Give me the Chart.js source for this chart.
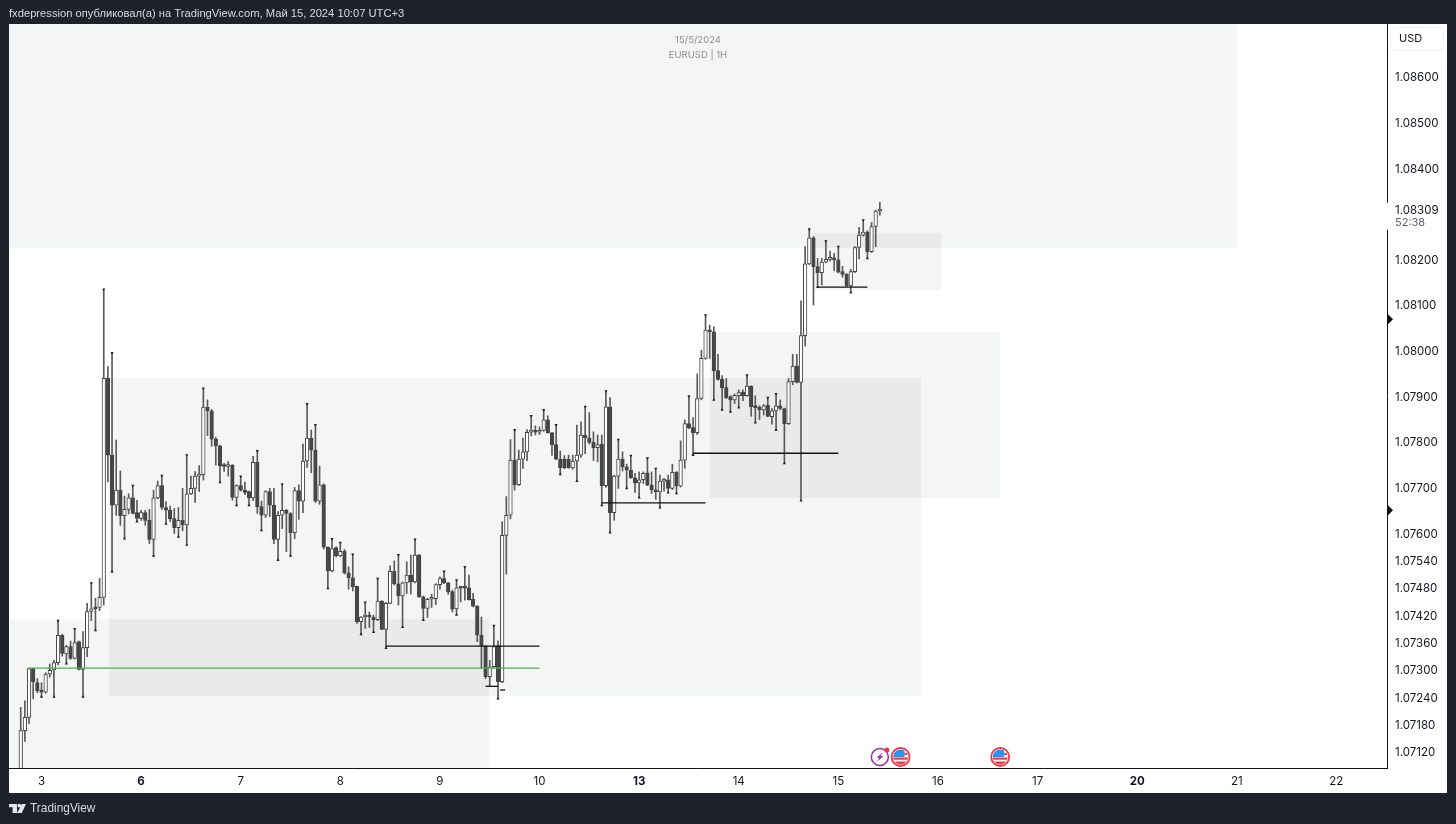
<!DOCTYPE html>
<html>
<head>
<meta charset="utf-8">
<title>EURUSD 1H</title>
<script src="https://cdn.jsdelivr.net/npm/chart.js@4"></script>
<style>
  html,body{margin:0;padding:0;background:#1e222d;overflow:hidden}
  canvas{display:block}
</style>
</head>
<body>
<canvas id="chart" width="1456" height="824"></canvas>
<script>
// CANDLES, one per hour, first bar sits 5 hours before the "3" day tick
const firstBar = -5;
const opens = [
  1.07050,1.07167,1.07196,1.07303,1.07272,1.07254,1.07251,1.07291,1.07300,1.07316,
  1.07376,1.07335,1.07351,1.07325,1.07362,1.07301,1.07349,1.07428,1.07437,1.07437,
  1.07459,1.07939,1.07771,1.07661,1.07694,1.07638,1.07652,1.07677,1.07645,1.07632,
  1.07645,1.07628,1.07586,1.07677,1.07704,1.07656,1.07650,1.07632,1.07612,1.07628,
  1.07618,1.07686,1.07698,1.07725,1.07728,1.07876,1.07868,1.07806,1.07791,1.07749,
  1.07746,1.07749,1.07678,1.07704,1.07694,1.07691,1.07677,1.07755,1.07658,1.07639,
  1.07691,1.07661,1.07586,1.07639,1.07650,1.07643,1.07601,1.07693,1.07670,1.07758,
  1.07808,1.07782,1.07670,1.07706,1.07569,1.07517,1.07568,1.07550,1.07560,1.07513,
  1.07502,1.07483,1.07406,1.07416,1.07417,1.07416,1.07410,1.07451,1.07389,1.07446,
  1.07516,1.07489,1.07462,1.07491,1.07508,1.07493,1.07552,1.07460,1.07435,1.07455,
  1.07456,1.07487,1.07500,1.07491,1.07472,1.07434,1.07480,1.07480,1.07480,1.07455,
  1.07440,1.07376,1.07352,1.07285,1.07307,1.07353,1.07274,1.07595,1.07639,1.07760,
  1.07706,1.07762,1.07778,1.07821,1.07826,1.07821,1.07825,1.07848,1.07820,1.07794,
  1.07762,1.07762,1.07762,1.07743,1.07758,1.07771,1.07815,1.07809,1.07799,1.07787,
  1.07795,1.07704,1.07877,1.07645,1.07725,1.07762,1.07745,1.07738,1.07721,1.07710,
  1.07717,1.07732,1.07705,1.07695,1.07690,1.07714,1.07717,1.07698,1.07733,1.07703,
  1.07760,1.07840,1.07831,1.07820,1.07895,1.07983,1.08045,1.08041,1.07956,1.07937,
  1.07919,1.07899,1.07892,1.07901,1.07909,1.07901,1.07922,1.07877,1.07876,1.07870,
  1.07880,1.07855,1.07868,1.07879,1.07873,1.07840,1.07932,1.07966,1.07930,1.08033,
  1.08190,1.08247,1.08184,1.08171,1.08194,1.08200,1.08202,1.08199,1.08173,1.08168,
  1.08142,1.08173,1.08226,1.08253,1.08260,1.08217,1.08272,1.08306
];
const closes = [
  1.07167,1.07196,1.07303,1.07274,1.07254,1.07251,1.07291,1.07299,1.07316,1.07376,
  1.07336,1.07351,1.07325,1.07360,1.07301,1.07349,1.07428,1.07434,1.07434,1.07459,
  1.07939,1.07771,1.07661,1.07694,1.07638,1.07652,1.07677,1.07643,1.07632,1.07645,
  1.07628,1.07586,1.07677,1.07704,1.07656,1.07650,1.07631,1.07612,1.07628,1.07618,
  1.07686,1.07698,1.07725,1.07728,1.07876,1.07868,1.07806,1.07791,1.07747,1.07746,
  1.07749,1.07678,1.07704,1.07694,1.07689,1.07677,1.07755,1.07658,1.07639,1.07691,
  1.07661,1.07586,1.07639,1.07650,1.07643,1.07601,1.07693,1.07670,1.07758,1.07808,
  1.07782,1.07670,1.07706,1.07569,1.07517,1.07566,1.07550,1.07560,1.07513,1.07502,
  1.07482,1.07406,1.07416,1.07417,1.07416,1.07410,1.07451,1.07389,1.07446,1.07516,
  1.07489,1.07462,1.07491,1.07508,1.07493,1.07552,1.07460,1.07435,1.07455,1.07456,
  1.07487,1.07500,1.07491,1.07471,1.07433,1.07480,1.07479,1.07479,1.07454,1.07440,
  1.07376,1.07352,1.07285,1.07307,1.07351,1.07274,1.07595,1.07639,1.07760,1.07706,
  1.07762,1.07778,1.07821,1.07826,1.07821,1.07825,1.07848,1.07820,1.07794,1.07762,
  1.07743,1.07743,1.07743,1.07758,1.07771,1.07815,1.07809,1.07799,1.07787,1.07794,
  1.07704,1.07877,1.07645,1.07725,1.07762,1.07745,1.07738,1.07721,1.07710,1.07717,
  1.07731,1.07705,1.07695,1.07690,1.07714,1.07717,1.07698,1.07733,1.07703,1.07760,
  1.07840,1.07831,1.07820,1.07895,1.07983,1.08045,1.08041,1.07956,1.07937,1.07919,
  1.07897,1.07892,1.07902,1.07908,1.07901,1.07922,1.07877,1.07875,1.07870,1.07879,
  1.07856,1.07868,1.07879,1.07873,1.07840,1.07932,1.07966,1.07930,1.08033,1.08190,
  1.08247,1.08184,1.08171,1.08194,1.08200,1.08202,1.08199,1.08172,1.08167,1.08142,
  1.08173,1.08226,1.08253,1.08260,1.08217,1.08272,1.08306,1.08309
];
const highs = [
  1.07218,1.07232,1.07304,1.07304,1.07281,1.07272,1.07294,1.07313,1.07321,1.07408,
  1.07378,1.07354,1.07363,1.07390,1.07363,1.07384,1.07446,1.07490,1.07457,1.07501,
  1.08134,1.07965,1.07995,1.07804,1.07736,1.07681,1.07686,1.07704,1.07672,1.07650,
  1.07650,1.07652,1.07694,1.07714,1.07726,1.07669,1.07659,1.07654,1.07656,1.07698,
  1.07771,1.07725,1.07735,1.07748,1.07917,1.07892,1.07871,1.07810,1.07793,1.07753,
  1.07757,1.07750,1.07706,1.07724,1.07712,1.07692,1.07768,1.07780,1.07670,1.07693,
  1.07698,1.07698,1.07647,1.07707,1.07652,1.07645,1.07700,1.07706,1.07795,1.07883,
  1.07826,1.07837,1.07747,1.07708,1.07570,1.07587,1.07570,1.07579,1.07564,1.07526,
  1.07553,1.07484,1.07417,1.07448,1.07427,1.07420,1.07500,1.07452,1.07448,1.07528,
  1.07539,1.07552,1.07493,1.07537,1.07552,1.07586,1.07553,1.07462,1.07457,1.07466,
  1.07489,1.07504,1.07516,1.07492,1.07475,1.07497,1.07482,1.07526,1.07508,1.07468,
  1.07441,1.07416,1.07353,1.07321,1.07397,1.07364,1.07625,1.07680,1.07805,1.07826,
  1.07782,1.07808,1.07827,1.07857,1.07835,1.07833,1.07870,1.07857,1.07821,1.07837,
  1.07780,1.07770,1.07771,1.07771,1.07837,1.07844,1.07877,1.07864,1.07822,1.07815,
  1.07815,1.07911,1.07897,1.07727,1.07805,1.07778,1.07751,1.07770,1.07731,1.07734,
  1.07734,1.07764,1.07734,1.07741,1.07727,1.07720,1.07727,1.07751,1.07735,1.07802,
  1.07848,1.07900,1.07853,1.07949,1.08001,1.08078,1.08056,1.08052,1.07992,1.07945,
  1.07939,1.07901,1.07905,1.07914,1.07914,1.07946,1.07923,1.07901,1.07879,1.07882,
  1.07897,1.07873,1.07905,1.07892,1.07874,1.07939,1.07992,1.07992,1.08109,1.08228,
  1.08266,1.08250,1.08202,1.08202,1.08240,1.08218,1.08213,1.08228,1.08185,1.08169,
  1.08178,1.08228,1.08270,1.08286,1.08263,1.08281,1.08308,1.08325
];
const lows = [
  1.07020,1.07143,1.07182,1.07237,1.07250,1.07241,1.07249,1.07284,1.07241,1.07311,
  1.07330,1.07314,1.07323,1.07324,1.07300,1.07241,1.07329,1.07408,1.07387,1.07430,
  1.07442,1.07712,1.07515,1.07639,1.07617,1.07588,1.07642,1.07642,1.07625,1.07628,
  1.07617,1.07577,1.07550,1.07675,1.07652,1.07620,1.07625,1.07599,1.07592,1.07605,
  1.07574,1.07684,1.07667,1.07691,1.07716,1.07814,1.07790,1.07749,1.07711,1.07735,
  1.07725,1.07672,1.07661,1.07692,1.07684,1.07661,1.07671,1.07643,1.07606,1.07634,
  1.07636,1.07577,1.07541,1.07610,1.07559,1.07550,1.07588,1.07630,1.07645,1.07744,
  1.07732,1.07667,1.07663,1.07565,1.07479,1.07515,1.07548,1.07548,1.07510,1.07477,
  1.07473,1.07402,1.07378,1.07391,1.07393,1.07383,1.07408,1.07388,1.07348,1.07445,
  1.07486,1.07442,1.07394,1.07468,1.07466,1.07491,1.07459,1.07409,1.07415,1.07437,
  1.07443,1.07477,1.07489,1.07466,1.07427,1.07421,1.07449,1.07453,1.07453,1.07438,
  1.07362,1.07303,1.07281,1.07264,1.07305,1.07237,1.07272,1.07510,1.07631,1.07694,
  1.07704,1.07742,1.07759,1.07813,1.07815,1.07816,1.07823,1.07819,1.07770,1.07761,
  1.07729,1.07741,1.07742,1.07740,1.07714,1.07766,1.07774,1.07795,1.07759,1.07756,
  1.07661,1.07700,1.07601,1.07628,1.07698,1.07736,1.07698,1.07720,1.07689,1.07678,
  1.07709,1.07704,1.07687,1.07674,1.07656,1.07692,1.07689,1.07695,1.07687,1.07701,
  1.07742,1.07829,1.07771,1.07816,1.07892,1.07981,1.07983,1.07892,1.07935,1.07870,
  1.07895,1.07866,1.07884,1.07875,1.07890,1.07900,1.07856,1.07842,1.07849,1.07859,
  1.07855,1.07839,1.07826,1.07870,1.07753,1.07838,1.07925,1.07929,1.07671,1.08010,
  1.08188,1.08100,1.08139,1.08144,1.08192,1.08196,1.08175,1.08170,1.08161,1.08140,
  1.08127,1.08171,1.08201,1.08251,1.08202,1.08215,1.08228,1.08297
];

// FRACTAL MARKS (bar numbers)
const fractalUp = [4,8,12,15,17,22,29,35,39,48,52,58,64,66,70,72,75,78,81,86,90,97,100,102,109,114,118,121,124,131,136,139,142,146,148,156,160,170,175,177,185,189,192,198];
const fractalDown = [0,3,6,10,13,17,20,23,27,30,33,35,43,47,50,53,57,60,69,77,80,83,87,92,100,110,125,129,135,137,141,144,149,151,153,157,162,164,166,168,172,177,179,183,187,195,199];

// AXES
const dayBars = [0,24,48,72,96,120,144,168,192,216,240,264,288,312];
const dayLabels = ['3','6','7','8','9','10','13','14','15','16','17','20','21','22'];
const boldDays = ['6','13','20'];
const priceTicks = [1.086,1.085,1.084,1.08309,1.082,1.081,1.08,1.079,1.078,1.077,1.076,1.0754,1.0748,1.0742,1.0736,1.073,1.0724,1.0718,1.0712];
const axisMarks = [1.08069,1.0765];

// ZONES
const zoneStart = [-7.8,-7.6,16.3,161,186];
const zoneEnd = [288,107.8,211.9,231,216.7];
const zoneTop = [1.08716,1.07411,1.0794,1.08041,1.08258];
const zoneBottom = [1.08225,1.07085,1.07243,1.07677,1.08133];

// LEVELS
const levelPrice = [1.07352,1.07666,1.07775,1.08139,1.07264,1.07256];
const levelStart = [83,135,157,187,107,110.5];
const levelEnd = [120,160,192,199,110,111.7];
const greenPrice = 1.07304;
const greenStart = -3;
const greenEnd = 120;

// EVENT ICONS (bar numbers)
const boltBars = [202];
const flagBars = [207,231];

const bars = opens.map((o,i)=>firstBar+i);
const downFill = '#474747';
const upFill = '#ffffff';
const fontName = 'Inter, "Liberation Sans", sans-serif';
const headFont = '"Liberation Sans", sans-serif';

const datasets = [];
datasets.push({
  type:'bar', label:'wicks', order:6, grouped:false, barThickness:1,
  data:bars.map((x,i)=>({x,y:[lows[i],highs[i]]})),
  backgroundColor:'#5a5a5a', borderWidth:0
});
datasets.push({
  type:'bar', label:'bodies', order:5, grouped:false, barThickness:3.6, minBarLength:2,
  data:bars.map((x,i)=>({x,y:[opens[i],closes[i]]})),
  backgroundColor:bars.map((x,i)=>closes[i]>=opens[i]?upFill:downFill),
  borderColor:'#444444', borderWidth:1, borderSkipped:false
});
datasets.push({
  type:'line', label:'fractal up', order:4, showLine:false,
  data:fractalUp.map(b=>({x:b,y:highs[b-firstBar]})),
  pointStyle:'triangle', pointRotation:180, pointRadius:1.8,
  pointBackgroundColor:'#222', pointBorderWidth:0
});
datasets.push({
  type:'line', label:'fractal down', order:4, showLine:false,
  data:fractalDown.map(b=>({x:b,y:lows[b-firstBar]})),
  pointStyle:'triangle', pointRadius:1.8,
  pointBackgroundColor:'#222', pointBorderWidth:0
});
levelPrice.forEach((p,i)=>{
  datasets.push({
    type:'line', label:'level '+i, order:3,
    data:[{x:levelStart[i],y:p},{x:levelEnd[i],y:p}],
    borderColor:'#111', borderWidth:1.3, pointRadius:0
  });
});
datasets.push({
  type:'line', label:'green level', order:2,
  data:[{x:greenStart,y:greenPrice},{x:greenEnd,y:greenPrice}],
  borderColor:'#4caf50', borderWidth:1.2, pointRadius:0
});

// white panes behind plot and axes, zones behind the candles
const panes = {
  id:'panes',
  beforeDatasetsDraw(chart){
    const c = chart.ctx, a = chart.chartArea, xs = chart.scales.x, ys = chart.scales.y;
    c.save();
    c.beginPath(); c.rect(a.left,a.top,a.right-a.left,a.bottom-a.top); c.clip();
    c.fillStyle = 'rgba(40,60,60,0.05)';
    zoneStart.forEach((s,i)=>{
      const x1 = xs.getPixelForValue(s), x2 = xs.getPixelForValue(zoneEnd[i]);
      const y1 = ys.getPixelForValue(zoneTop[i]), y2 = ys.getPixelForValue(zoneBottom[i]);
      c.fillRect(x1,y1,x2-x1,y2-y1);
    });
    c.restore();
  },
  beforeDraw(chart){
    const c = chart.ctx, a = chart.chartArea, ys = chart.scales.y, xs = chart.scales.x;
    c.save();
    c.fillStyle = '#1e222d';
    c.fillRect(0,0,chart.width,chart.height);
    c.fillStyle = '#ffffff';
    c.fillRect(a.left,a.top,ys.right-a.left,xs.bottom-a.top);
    c.restore();
  }
};

function drawBolt(c,x,y){
  c.strokeStyle = '#9c27b0'; c.lineWidth = 1.5;
  c.beginPath(); c.arc(x,y,8.5,0,Math.PI*2); c.stroke();
  c.fillStyle = '#9c27b0';
  c.beginPath();
  c.moveTo(x+3.5,y-5); c.lineTo(x-3.5,y+0.8); c.lineTo(x-0.5,y+0.8);
  c.lineTo(x-3,y+5); c.lineTo(x+3.5,y-1); c.lineTo(x+0.5,y-1); c.closePath(); c.fill();
  c.fillStyle = '#f23645';
  c.beginPath(); c.arc(x+7,y-7,2.5,0,Math.PI*2); c.fill();
}
function drawFlag(c,x,y){
  c.save();
  c.beginPath(); c.arc(x,y,7.5,0,Math.PI*2); c.clip();
  c.fillStyle = '#ffffff'; c.fillRect(x-8,y-8,16,16);
  c.fillStyle = '#f23645';
  c.fillRect(x-8,y+0.5,16,2.2); c.fillRect(x-8,y+4.5,16,3.5);
  c.fillStyle = '#2196f3'; c.fillRect(x-8,y-8,12,8);
  c.fillStyle = '#f23645'; c.fillRect(x+4,y-4,4,2);
  c.restore();
  c.strokeStyle = '#f23645'; c.lineWidth = 1.8;
  c.beginPath(); c.arc(x,y,9,0,Math.PI*2); c.stroke();
}
function drawLogo(c){
  c.fillStyle = '#e6e8ee';
  c.fillRect(9,804,8,3.2);
  c.fillRect(12.6,804,4.4,9);
  c.beginPath(); c.arc(19.4,805.7,1.9,0,Math.PI*2); c.fill();
  c.beginPath();
  c.moveTo(22,804); c.lineTo(26,804); c.lineTo(21.7,813); c.lineTo(17,813); c.closePath(); c.fill();
}

const overlay = {
  id:'overlay',
  afterDraw(chart){
    const c = chart.ctx, a = chart.chartArea, ys = chart.scales.y, xs = chart.scales.x;
    c.save();
    // header and footer
    c.textBaseline = 'middle'; c.textAlign = 'left';
    c.font = '11.2px '+headFont; c.fillStyle = '#d8dae0';
    c.fillText('fxdepression опубликовал(а) на TradingView.com, Май 15, 2024 10:07 UTC+3',9,13.5);
    drawLogo(c);
    c.font = '11.9px '+headFont; c.fillStyle = '#d8dae0';
    c.fillText('TradingView',30,809);
    // chart caption
    c.textAlign = 'center'; c.font = '9.5px '+fontName; c.fillStyle = '#8a8f98';
    c.fillText('15/5/2024',698,40.5);
    c.fillText('EURUSD | 1H',698,55.5);
    // currency box
    c.strokeStyle = '#eef0f3'; c.lineWidth = 1; c.fillStyle = '#fff';
    c.beginPath(); c.roundRect(1390.5,27.5,53,23,4); c.fill(); c.stroke();
    c.textAlign = 'left'; c.font = '11px '+fontName; c.fillStyle = '#131722';
    c.fillText('USD',1399,39);
    // last price block cuts the axis line
    const yLast = ys.getPixelForValue(closes[closes.length-1]);
    c.fillStyle = '#fff';
    c.fillRect(a.right-1,yLast-7,7,27);
    c.font = '11px '+fontName; c.fillStyle = '#5d606b';
    c.fillText('52:38',1395,yLast+13);
    // axis arrows
    c.fillStyle = '#111';
    axisMarks.forEach(p=>{
      const y = ys.getPixelForValue(p);
      c.beginPath(); c.moveTo(a.right+1,y-5); c.lineTo(a.right+6,y); c.lineTo(a.right+1,y+5); c.closePath(); c.fill();
    });
    // events
    boltBars.forEach(b=>drawBolt(c,xs.getPixelForValue(b),757));
    flagBars.forEach(b=>drawFlag(c,xs.getPixelForValue(b),757));
    c.restore();
  }
};

new Chart(document.getElementById('chart'),{
  data:{datasets},
  plugins:[panes,overlay],
  options:{
    responsive:false,
    animation:false,
    devicePixelRatio:1,
    layout:{padding:{left:9,top:24,right:9,bottom:31}},
    plugins:{legend:{display:false},tooltip:{enabled:false}},
    scales:{
      x:{
        type:'linear', offset:false, min:-7.83, max:324.2,
        grid:{display:false,drawTicks:false},
        border:{display:true,color:'#111',width:1},
        afterBuildTicks(axis){ axis.ticks = dayBars.map(v=>({value:v})); },
        afterFit(axis){ axis.height = 25; },
        ticks:{
          autoSkip:false, maxRotation:0, minRotation:0, padding:7, color:'#131722',
          font(ctx){
            const lab = dayLabels[dayBars.indexOf(ctx.tick ? ctx.tick.value : -1)];
            return {family:fontName,size:11.5,weight:boldDays.includes(lab)?'700':'400'};
          },
          callback(v){ return dayLabels[dayBars.indexOf(v)]; }
        }
      },
      y:{
        type:'linear', position:'right', min:1.07085, max:1.08716,
        grid:{display:false,drawTicks:false},
        border:{display:true,color:'#111',width:1},
        afterBuildTicks(axis){ axis.ticks = priceTicks.map(v=>({value:v})); },
        afterFit(axis){ axis.width = 60; },
        ticks:{
          autoSkip:false, padding:8, labelOffset:1, color:'#131722',
          font:{family:fontName,size:11.5},
          callback(v){ return v.toFixed(5); }
        }
      }
    }
  }
});
</script>
</body>
</html>
